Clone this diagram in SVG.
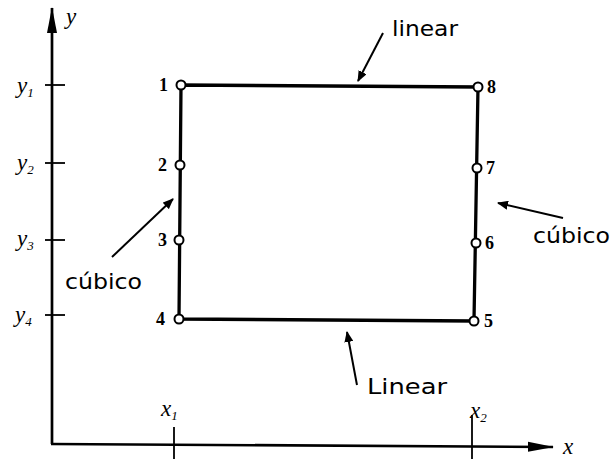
<svg xmlns="http://www.w3.org/2000/svg" width="612" height="459" viewBox="0 0 612 459">
<defs>
<style>
.ax{stroke:#000;stroke-width:2.7;fill:none}
.tk{stroke:#000;stroke-width:1.8;fill:none}
.edge{stroke:#000;stroke-width:3.3;fill:none;stroke-linejoin:round}
.node{fill:#fff;stroke:#000;stroke-width:2}
.num{font-family:"Liberation Serif",serif;font-size:18px;font-weight:bold;fill:#000}
.hand{font-family:"DejaVu Sans","Liberation Sans",sans-serif;font-size:21px;fill:#000}
.axl{font-family:"Liberation Serif",serif;font-style:italic;font-size:23px;fill:#000}
.sub{font-size:13px}
.ptr{stroke:#000;stroke-width:2;fill:none}
</style>
<marker id="ah" markerWidth="11" markerHeight="9" refX="10" refY="4.5" orient="auto" markerUnits="userSpaceOnUse">
<path d="M0,0 L11,4.5 L0,9 Z" fill="#000"/>
</marker>
<marker id="axh" markerWidth="26" markerHeight="12" refX="25" refY="6" orient="auto" markerUnits="userSpaceOnUse">
<path d="M0,1 L26,6 L0,11 Z" fill="#000"/>
</marker>
</defs>
<rect width="612" height="459" fill="#fff"/>
<g id="axes">
<line class="ax" x1="52" y1="444" x2="52" y2="8" marker-end="url(#axh)"/>
<line class="ax" x1="51" y1="444" x2="553" y2="447" marker-end="url(#axh)"/>
<line class="tk" x1="45" y1="85" x2="65" y2="85"/>
<line class="tk" x1="45" y1="163" x2="65" y2="163"/>
<line class="tk" x1="45" y1="240" x2="65" y2="240"/>
<line class="tk" x1="45" y1="315" x2="65" y2="315"/>
<line class="tk" x1="174" y1="427" x2="174" y2="459"/>
<line class="tk" x1="472" y1="415" x2="472" y2="459"/>
<text class="axl" x="66" y="24" font-size="17">y</text>
<text class="axl" x="563" y="454" font-size="17">x</text>
<text class="axl" x="17" y="93">y<tspan class="sub" dy="4">1</tspan></text>
<text class="axl" x="17" y="170">y<tspan class="sub" dy="4">2</tspan></text>
<text class="axl" x="17" y="246">y<tspan class="sub" dy="4">3</tspan></text>
<text class="axl" x="15" y="322">y<tspan class="sub" dy="4">4</tspan></text>
<text class="axl" x="161" y="416">x<tspan class="sub" dy="4">1</tspan></text>
<text class="axl" x="470" y="418">x<tspan class="sub" dy="4">2</tspan></text>
</g>
<g id="element">
<polygon class="edge" points="181,85 478,87 474,321 179,319"/>
</g>
<g id="n1"><circle class="node" cx="181" cy="85" r="4.5"/><text class="num" x="159" y="91">1</text></g>
<g id="n2"><circle class="node" cx="180" cy="165" r="4.5"/><text class="num" x="158" y="171">2</text></g>
<g id="n3"><circle class="node" cx="179" cy="240" r="4.5"/><text class="num" x="158" y="246">3</text></g>
<g id="n4"><circle class="node" cx="179" cy="319" r="4.5"/><text class="num" x="156" y="325">4</text></g>
<g id="n5"><circle class="node" cx="474" cy="321" r="4.5"/><text class="num" x="484" y="327">5</text></g>
<g id="n6"><circle class="node" cx="476" cy="243" r="4.5"/><text class="num" x="485" y="249">6</text></g>
<g id="n7"><circle class="node" cx="477" cy="168" r="4.5"/><text class="num" x="486" y="174">7</text></g>
<g id="n8"><circle class="node" cx="478" cy="87" r="4.5"/><text class="num" x="487" y="93">8</text></g>
<g id="connectors">
<line class="ptr" x1="383" y1="33" x2="358" y2="81" marker-end="url(#ah)"/>
<line class="ptr" x1="112" y1="257" x2="173" y2="199" marker-end="url(#ah)"/>
<line class="ptr" x1="563" y1="218" x2="498" y2="203" marker-end="url(#ah)"/>
<line class="ptr" x1="357" y1="385" x2="347" y2="332" marker-end="url(#ah)"/>
</g>
<g id="labels">
<text class="hand" x="392" y="36" textLength="66" lengthAdjust="spacingAndGlyphs">linear</text>
<text class="hand" x="65" y="289" textLength="77" lengthAdjust="spacingAndGlyphs">cúbico</text>
<text class="hand" x="533" y="243" textLength="77" lengthAdjust="spacingAndGlyphs">cúbico</text>
<text class="hand" x="367" y="394" textLength="80" lengthAdjust="spacingAndGlyphs">Linear</text>
</g>
</svg>
